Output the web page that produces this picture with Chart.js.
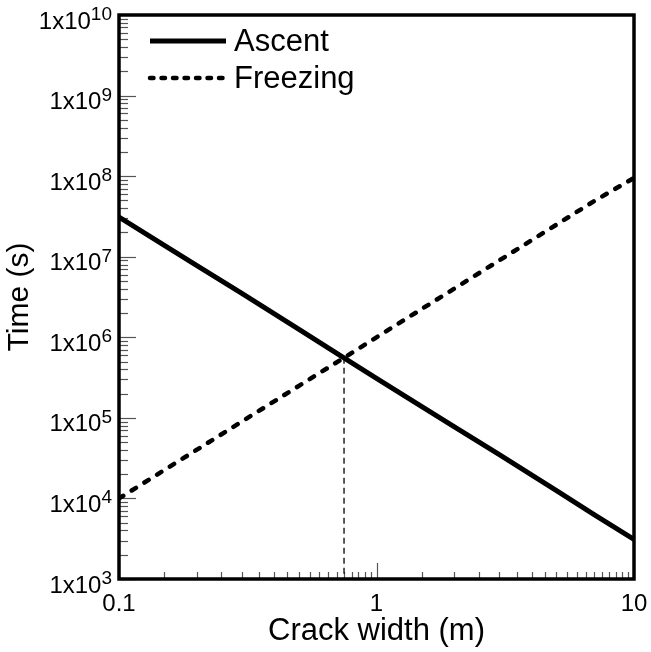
<!DOCTYPE html>
<html><head><meta charset="utf-8">
<script src="https://cdn.jsdelivr.net/npm/chart.js@4/dist/chart.umd.min.js"></script>
<style>html,body{margin:0;padding:0;background:#fff}canvas{display:block}</style>
</head><body>
<canvas id="c" width="651" height="652"></canvas>
<script>
// ---- data ----
const widths   = [0.1, 0.15, 0.2, 0.3, 0.5, 0.75, 1, 1.5, 2, 3, 5, 7, 10];
const ascent   = [3.1e7, 1.38e7, 7.8e6, 3.5e6, 1.25e6, 5.5e5, 3.1e5, 1.38e5, 7.8e4, 3.5e4, 1.25e4, 6.3e3, 3.1e3];
const freezing = [1.0e4, 2.25e4, 4.0e4, 9.0e4, 2.5e5, 5.6e5, 1.0e6, 2.25e6, 4.0e6, 9.0e6, 2.5e7, 4.9e7, 9.5e7];
const crossingX = [0.748, 0.748];
const crossingY = [5.57e5, 1e3];
const xTickValues = [0.1, 1, 10];
const xTickLabels = ['0.1', '1', '10'];
const yTickExponents = [3, 4, 5, 6, 7, 8, 9, 10];
const seriesLabels = ['Ascent', 'Freezing'];

const FONT = "'Liberation Sans', Arial, Helvetica, sans-serif";

const toPts = (xs, ys) => xs.map((x, i) => ({x, y: ys[i]}));

const axisPlugin = {
  id: 'axisDecor',
  beforeDatasetsDraw(chart) {
    const {ctx, chartArea: a, scales: {x, y}} = chart;
    ctx.save();
    ctx.strokeStyle = '#555';
    ctx.lineWidth = 1.2;
    // y ticks (inward)
    for (let d = 3; d < 10; d++) {
      for (let m = 1; m <= 9; m++) {
        const v = m * Math.pow(10, d);
        const py = Math.round(y.getPixelForValue(v)) + 0.5;
        const len = m === 1 ? 17 : 9;
        ctx.beginPath(); ctx.moveTo(a.left, py); ctx.lineTo(a.left + len, py); ctx.stroke();
      }
    }
    // x ticks (inward)
    const xMinor = [];
    for (let k = 3; k <= 19; k++) xMinor.push(k * 0.05);
    for (let k = 3; k <= 19; k++) xMinor.push(k * 0.5);
    xMinor.forEach(v => {
      const px = Math.round(x.getPixelForValue(v)) + 0.5;
      ctx.beginPath(); ctx.moveTo(px, a.bottom); ctx.lineTo(px, a.bottom - 7); ctx.stroke();
    });
    xTickValues.forEach(v => {
      const px = Math.round(x.getPixelForValue(v)) + 0.5;
      ctx.beginPath(); ctx.moveTo(px, a.bottom); ctx.lineTo(px, a.bottom - 16); ctx.stroke();
    });
    ctx.restore();
  },
  afterDraw(chart) {
    const {ctx, chartArea: a, scales: {x, y}} = chart;
    ctx.save();
    // frame
    ctx.strokeStyle = '#000';
    ctx.lineWidth = 3.5;
    ctx.strokeRect(a.left, a.top, a.right - a.left, a.bottom - a.top);
    ctx.fillStyle = '#000';
    // y tick labels 1x10^n
    ctx.textBaseline = 'alphabetic';
    yTickExponents.forEach(e => {
      const py = y.getPixelForValue(Math.pow(10, e));
      const sup = String(e);
      ctx.font = `19px ${FONT}`;
      const sw = ctx.measureText(sup).width;
      const right = 112;
      ctx.textAlign = 'left';
      ctx.fillText(sup, right - sw, py + 5);
      ctx.font = `24px ${FONT}`;
      ctx.textAlign = 'right';
      ctx.fillText('1x10', right - sw, py + 13.5);
    });
    // x tick labels
    ctx.font = `24px ${FONT}`;
    ctx.textAlign = 'center';
    ctx.textBaseline = 'middle';
    xTickValues.forEach((v, i) => {
      ctx.fillText(xTickLabels[i], x.getPixelForValue(v), 604);
    });
    // legend
    const items = chart.data.datasets.slice(0, 2);
    const rows = [41, 78];
    const legendDash = [[], [3.5, 8]];
    items.forEach((ds, i) => {
      const ly = rows[i];
      ctx.beginPath();
      ctx.strokeStyle = ds.borderColor;
      ctx.lineWidth = ds.borderWidth;
      ctx.lineCap = ds.borderCapStyle || 'butt';
      ctx.setLineDash(legendDash[i]);
      ctx.moveTo(150, ly); ctx.lineTo(226, ly); ctx.stroke();
      ctx.setLineDash([]);
      ctx.font = `31px ${FONT}`;
      ctx.textAlign = 'left';
      ctx.textBaseline = 'middle';
      ctx.fillText(ds.label, 234, ly + 1);
    });
    ctx.restore();
  }
};

new Chart(document.getElementById('c'), {
  type: 'line',
  data: {
    datasets: [
      {label: seriesLabels[0], data: toPts(widths, ascent), borderColor: '#000', borderWidth: 5,
       pointRadius: 0, fill: false, tension: 0, borderJoinStyle: 'round'},
      {label: seriesLabels[1], data: toPts(widths, freezing), borderColor: '#000', borderWidth: 4.5,
       borderDash: [5, 10], borderCapStyle: 'round', pointRadius: 0, fill: false, tension: 0},
      {label: 'crossing', data: toPts(crossingX, crossingY), borderColor: '#000', borderWidth: 1.3,
       borderDash: [6, 4], pointRadius: 0, fill: false}
    ]
  },
  options: {
    responsive: false,
    animation: false,
    layout: {padding: {top: 15, right: 17, left: 0, bottom: 0}},
    plugins: {legend: {display: false}, tooltip: {enabled: false}},
    scales: {
      x: {
        type: 'logarithmic', min: 0.1, max: 10,
        grid: {display: false}, border: {display: false}, ticks: {display: false},
        title: {display: true, text: 'Crack width (m)', color: '#000',
                font: {family: FONT, size: 31}, padding: {top: 0, bottom: 2}},
        afterFit(s) { s.height = 73; }
      },
      y: {
        type: 'logarithmic', min: 1e3, max: 1e10,
        grid: {display: false}, border: {display: false}, ticks: {display: false},
        title: {display: true, text: 'Time (s)', color: '#000',
                font: {family: FONT, size: 30}, padding: {top: 2, bottom: 0}},
        afterFit(s) { s.width = 119; }
      }
    }
  },
  plugins: [axisPlugin]
});
</script>
</body></html>
